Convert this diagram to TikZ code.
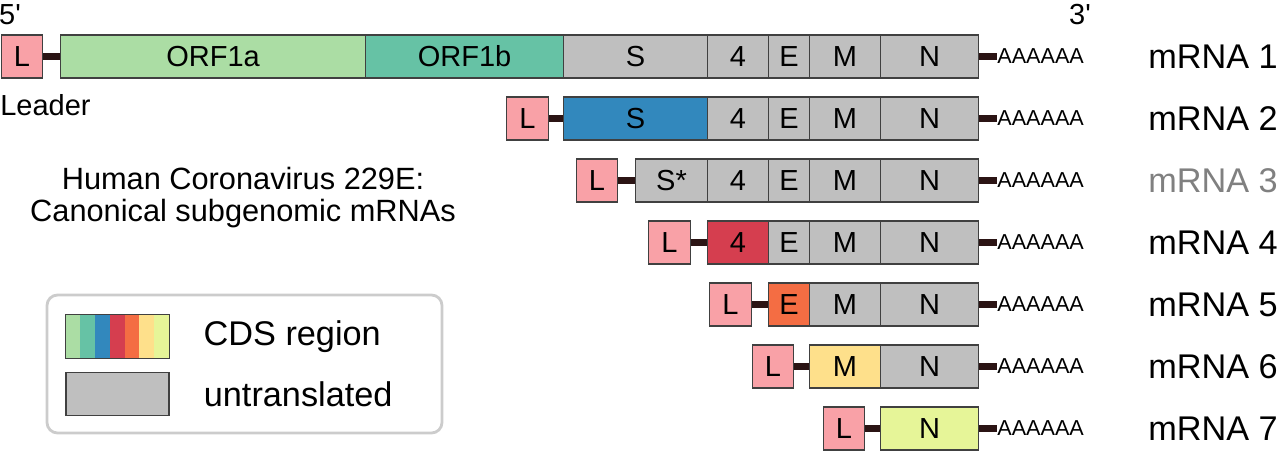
\documentclass[tikz,border=0pt]{standalone}
\usepackage{fontspec}
\setmainfont{Liberation Sans}
\usetikzlibrary{positioning, calc}
\usepackage{xcolor}

% Spectral colours for the coding regions
\definecolor{orfa}{HTML}{ABDDA4}
\definecolor{orfb}{HTML}{66C2A5}
\definecolor{spike}{HTML}{3288BD}
\definecolor{four}{HTML}{D53E4F}
\definecolor{envel}{HTML}{F46D43}
\definecolor{membr}{HTML}{FEE08B}
\definecolor{nucl}{HTML}{E6F598}
\definecolor{leaderpink}{HTML}{F9A1A7}
\definecolor{untrans}{HTML}{BFBFBF}
\definecolor{linkbrown}{HTML}{2B1414}

\tikzset{
    seg/.style={draw=black!75, line width=0.6pt, minimum height=0.86cm, inner sep=0pt, anchor=west, font=\fontsize{16.5}{19}\selectfont},
    link/.style={draw=linkbrown, line width=3.6pt},
    polya/.style={inner sep=0pt, anchor=west, font=\fontsize{12.3}{14}\selectfont},
    rnalabel/.style={inner sep=0pt, anchor=west, font=\fontsize{19.5}{22}\selectfont},
    plain/.style={inner sep=0pt, font=\fontsize{16.5}{18}\selectfont},
    frame/.style={draw=black!20, line width=1.6pt, rounded corners=6pt}
}

% one block of a transcript: row, name, from, to, colour, text
\newcommand{\genebox}[6]{%
    \node[seg, fill=#5, minimum width={(#4-#3)*1cm}] (#2#1) at (#3,{-1.13-1.24*(#1-1)}) {#6};}

\begin{document}
\begin{tikzpicture}
    \useasboundingbox (0,0) rectangle (25.6,-9);

    % Ends of the genome
    \node[plain] (five) at (0.2,-0.3) {5\textquotesingle};
    \node[plain] (three) at (21.6,-0.3) {3\textquotesingle};

    % mRNA 1 (genome)
    \genebox{1}{L}{0.02}{0.84}{leaderpink}{L}
    \genebox{1}{orfa}{1.20}{7.30}{orfa}{ORF1a}
    \genebox{1}{orfb}{7.30}{11.26}{orfb}{ORF1b}
    \genebox{1}{S}{11.26}{14.14}{untrans}{S}
    \genebox{1}{four}{14.14}{15.36}{untrans}{4}
    \genebox{1}{E}{15.36}{16.18}{untrans}{E}
    \genebox{1}{M}{16.18}{17.60}{untrans}{M}
    \genebox{1}{N}{17.60}{19.56}{untrans}{N}
    \node[plain, anchor=west] (leader) at (0,-2.1) {Leader};

    % mRNA 2
    \genebox{2}{L}{10.12}{10.96}{leaderpink}{L}
    \genebox{2}{S}{11.26}{14.14}{spike}{S}
    \genebox{2}{four}{14.14}{15.36}{untrans}{4}
    \genebox{2}{E}{15.36}{16.18}{untrans}{E}
    \genebox{2}{M}{16.18}{17.60}{untrans}{M}
    \genebox{2}{N}{17.60}{19.56}{untrans}{N}

    % mRNA 3
    \genebox{3}{L}{11.52}{12.34}{leaderpink}{L}
    \genebox{3}{Sstar}{12.70}{14.14}{untrans}{S*}
    \genebox{3}{four}{14.14}{15.36}{untrans}{4}
    \genebox{3}{E}{15.36}{16.18}{untrans}{E}
    \genebox{3}{M}{16.18}{17.60}{untrans}{M}
    \genebox{3}{N}{17.60}{19.56}{untrans}{N}

    % mRNA 4
    \genebox{4}{L}{12.96}{13.80}{leaderpink}{L}
    \genebox{4}{four}{14.14}{15.36}{four}{4}
    \genebox{4}{E}{15.36}{16.18}{untrans}{E}
    \genebox{4}{M}{16.18}{17.60}{untrans}{M}
    \genebox{4}{N}{17.60}{19.56}{untrans}{N}

    % mRNA 5
    \genebox{5}{L}{14.18}{15.02}{leaderpink}{L}
    \genebox{5}{E}{15.36}{16.18}{envel}{E}
    \genebox{5}{M}{16.18}{17.60}{untrans}{M}
    \genebox{5}{N}{17.60}{19.56}{untrans}{N}

    % mRNA 6
    \genebox{6}{L}{15.04}{15.86}{leaderpink}{L}
    \genebox{6}{M}{16.18}{17.60}{membr}{M}
    \genebox{6}{N}{17.60}{19.56}{untrans}{N}

    % mRNA 7
    \genebox{7}{L}{16.46}{17.28}{leaderpink}{L}
    \genebox{7}{N}{17.60}{19.56}{nucl}{N}

    % Leader links, poly(A) tails and names
    \foreach \k/\first/\col in {1/orfa/black, 2/S/black, 3/Sstar/black!50, 4/four/black, 5/E/black, 6/M/black, 7/N/black} {
        \draw[link] (L\k.east) -- (\first\k.west);
        \node[polya] (A\k) at (19.94,{-1.13-1.24*(\k-1)}) {AAAAAA};
        \draw[link] (N\k.east) -- (A\k.west);
        \node[rnalabel, text=\col] (name\k) at (22.96,{-1.13-1.24*(\k-1)}) {mRNA \k};
    }

    % Title
    \node[plain, align=center, font=\fontsize{17.5}{18}\selectfont] (title) at (4.86,-3.95) {Human Coronavirus 229E:\\Canonical subgenomic mRNAs};

    % Legend
    \draw[frame] (0.94,-5.9) rectangle (8.84,-8.66);
    \node[minimum width=2.06cm, minimum height=0.86cm, inner sep=0pt] (cdskey) at (2.35,-6.73) {};
    \foreach \c [count=\i from 0] in {orfa, orfb, spike, four, envel, membr, nucl}
        \fill[\c] ($(cdskey.south west)+(\i*0.2943,0)$) rectangle ($(cdskey.north west)+({(\i+1)*0.2943},0)$);
    \draw[black!75, line width=0.6pt] (cdskey.south west) rectangle (cdskey.north east);
    \node[seg, anchor=center, fill=untrans, minimum width=2.06cm, below=0.28cm of cdskey] (utrkey) {};
    \node[rnalabel, right=0.68cm of cdskey] (cdstext) {CDS region};
    \node[rnalabel, right=0.68cm of utrkey] (utrtext) {untranslated};
\end{tikzpicture}
\end{document}
